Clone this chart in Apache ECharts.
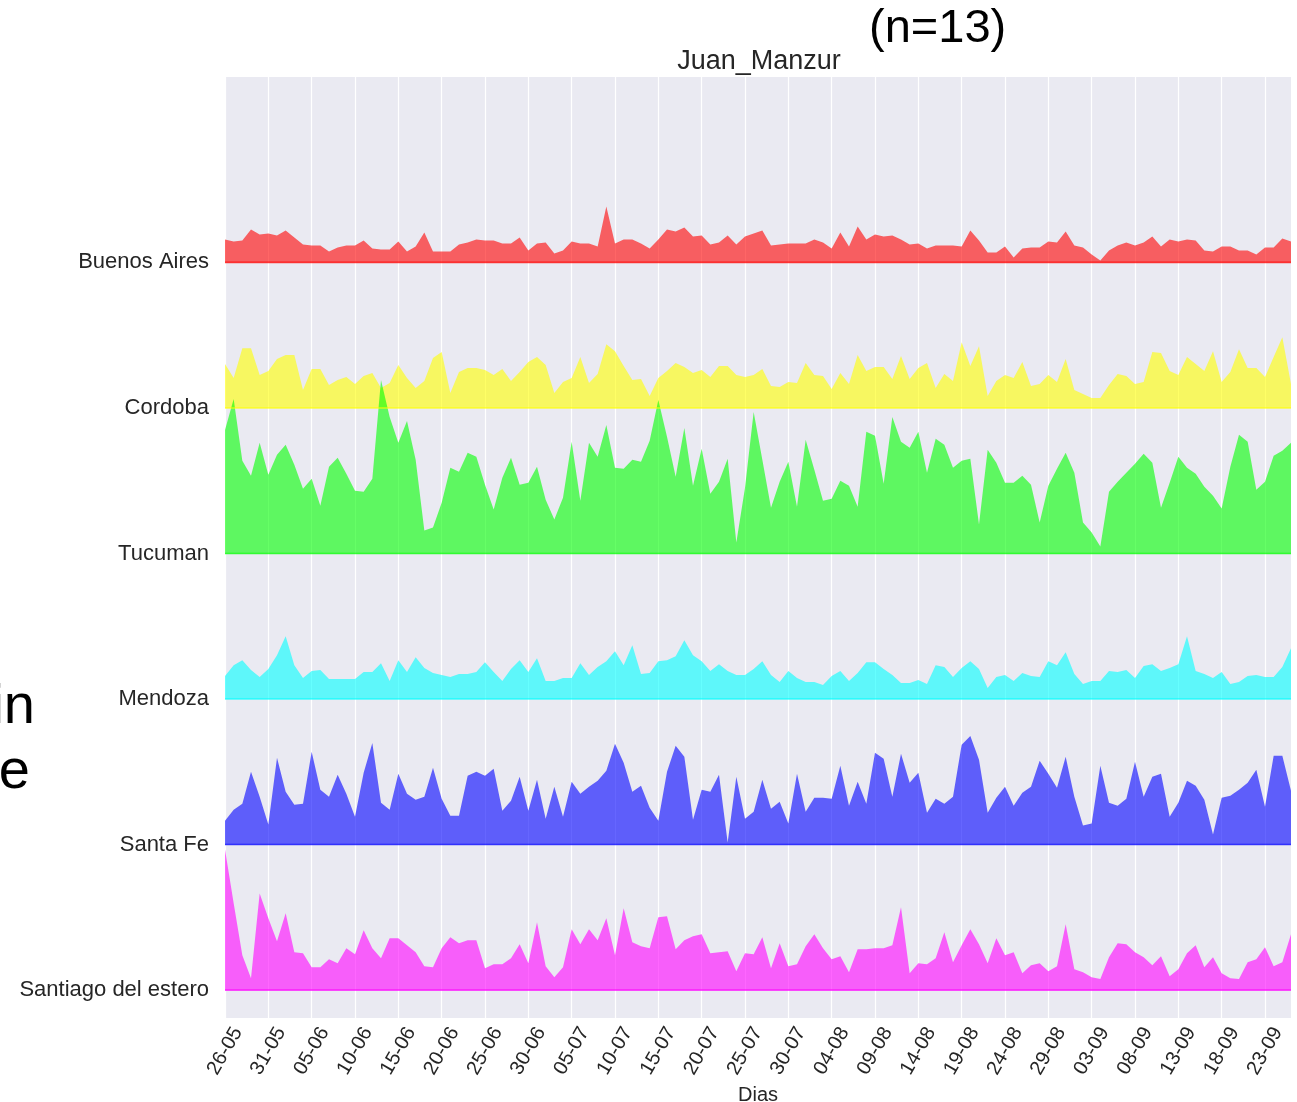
<!DOCTYPE html>
<html>
<head>
<meta charset="utf-8">
<title>Juan_Manzur</title>
<script src="https://cdn.jsdelivr.net/npm/echarts@6/dist/echarts.min.js"></script>
<style>
  html, body { margin: 0; padding: 0; background: #ffffff; }
  #chart { width: 1297px; height: 1102px; }
</style>
</head>
<body>
<div id="chart"></div>
<script>
// Daily series, 26-05 through 26-09 (124 days)
const firstDay = { year: 2021, month: 5, day: 26 };
const dayCount = 124;

const provinces = ['Buenos Aires', 'Cordoba', 'Tucuman', 'Mendoza', 'Santa Fe', 'Santiago del estero'];

const buenosAires = [
  23, 21, 22, 33, 28, 29, 27, 32, 25, 18,
  17, 17, 11, 15, 17, 17, 22, 14, 13, 13,
  21, 11, 16, 30, 11, 11, 11, 18, 20, 23,
  22, 22, 19, 19, 25, 12, 19, 20, 9, 12,
  21, 19, 19, 16, 56, 19, 23, 23, 19, 14,
  23, 33, 31, 35, 26, 27, 18, 20, 27, 18,
  26, 29, 32, 17, 18, 19, 19, 19, 23, 20,
  14, 30, 16, 36, 23, 28, 26, 27, 23, 18,
  19, 14, 17, 17, 17, 16, 32, 22, 10, 10,
  16, 5, 14, 15, 15, 21, 20, 31, 17, 15,
  8, 2, 12, 17, 20, 17, 20, 26, 16, 23,
  21, 23, 22, 12, 11, 16, 16, 12, 12, 8,
  15, 15, 24, 21
];

const cordoba = [
  44, 30, 60, 60, 33, 37, 49, 53, 53, 18,
  39, 39, 23, 28, 31, 24, 32, 35, 20, 25,
  43, 30, 20, 27, 50, 56, 15, 36, 40, 40,
  38, 33, 39, 27, 36, 46, 51, 43, 15, 26,
  30, 51, 25, 34, 64, 57, 42, 28, 29, 12,
  30, 37, 45, 41, 35, 38, 31, 42, 42, 33,
  31, 33, 39, 22, 21, 26, 25, 45, 33, 32,
  19, 35, 24, 53, 37, 41, 41, 29, 52, 29,
  40, 45, 20, 34, 27, 66, 42, 62, 12, 27,
  33, 30, 46, 22, 24, 33, 26, 49, 18, 14,
  10, 10, 23, 34, 32, 24, 26, 56, 55, 37,
  33, 51, 44, 37, 57, 26, 36, 59, 40, 40,
  31, 51, 71, 24
];

const tucuman = [
  124, 155, 93, 78, 111, 79, 99, 109, 89, 65,
  75, 48, 87, 96, 80, 63, 62, 75, 174, 137,
  111, 133, 94, 23, 26, 51, 86, 82, 101, 97,
  69, 44, 76, 96, 69, 71, 87, 54, 34, 56,
  112, 53, 111, 97, 129, 86, 85, 94, 92, 113,
  154, 117, 77, 126, 68, 105, 60, 72, 95, 11,
  66, 142, 94, 46, 72, 92, 47, 114, 84, 53,
  55, 73, 68, 47, 122, 118, 70, 137, 112, 106,
  122, 81, 115, 109, 86, 93, 95, 29, 104, 91,
  71, 71, 78, 69, 31, 68, 85, 101, 81, 31,
  21, 7, 62, 72, 81, 90, 100, 91, 46, 71,
  97, 86, 80, 67, 58, 45, 87, 119, 112, 64,
  72, 98, 103, 111
];

const mendoza = [
  23, 34, 39, 29, 22, 30, 44, 63, 34, 21,
  28, 29, 20, 20, 20, 20, 27, 27, 36, 18,
  39, 27, 42, 31, 26, 24, 22, 25, 25, 27,
  37, 27, 18, 30, 39, 27, 41, 18, 18, 21,
  21, 36, 24, 32, 38, 48, 34, 54, 25, 26,
  38, 39, 43, 59, 44, 38, 28, 35, 28, 24,
  24, 30, 38, 24, 17, 28, 21, 17, 17, 14,
  23, 28, 18, 26, 37, 37, 30, 24, 16, 16,
  19, 15, 34, 32, 22, 31, 38, 30, 11, 22,
  24, 18, 26, 23, 22, 38, 34, 47, 25, 15,
  18, 18, 28, 27, 29, 21, 33, 35, 28, 31,
  35, 63, 28, 25, 21, 27, 15, 17, 23, 24,
  22, 22, 32, 51
];

const santaFe = [
  24, 35, 41, 73, 48, 20, 87, 53, 40, 41,
  93, 55, 48, 70, 51, 28, 72, 102, 42, 35,
  71, 51, 45, 48, 77, 46, 29, 29, 69, 73,
  69, 76, 34, 44, 68, 34, 65, 26, 58, 28,
  63, 51, 58, 64, 74, 101, 82, 53, 59, 37,
  24, 73, 99, 88, 25, 55, 53, 70, 2, 68,
  26, 33, 65, 36, 43, 21, 71, 33, 47, 47,
  46, 79, 39, 63, 41, 92, 86, 48, 91, 62,
  72, 32, 46, 41, 48, 100, 109, 85, 32, 47,
  58, 39, 52, 58, 84, 71, 57, 88, 48, 19,
  21, 79, 42, 39, 46, 83, 48, 68, 71, 28,
  42, 64, 59, 45, 10, 47, 49, 55, 62, 75,
  38, 89, 89, 54
];

const santiagoDelEstero = [
  141, 87, 35, 12, 97, 72, 49, 77, 38, 37,
  23, 23, 31, 27, 42, 36, 60, 42, 32, 52,
  52, 45, 38, 24, 23, 42, 53, 47, 50, 50,
  22, 26, 26, 32, 46, 27, 68, 24, 13, 23,
  61, 46, 61, 50, 72, 35, 82, 48, 44, 42,
  73, 74, 41, 50, 54, 56, 37, 38, 39, 19,
  37, 36, 53, 22, 47, 24, 26, 44, 56, 42,
  31, 34, 18, 41, 41, 42, 42, 45, 83, 17,
  27, 26, 32, 58, 28, 45, 61, 46, 27, 52,
  35, 38, 17, 25, 27, 19, 24, 66, 21, 18,
  13, 11, 33, 47, 46, 38, 33, 25, 34, 14,
  21, 37, 45, 23, 33, 17, 12, 11, 28, 31,
  43, 24, 28, 56
];

const provinceValues = [buenosAires, cordoba, tucuman, mendoza, santaFe, santiagoDelEstero];
const provinceRgb = ['255,0,0', '255,255,0', '0,255,0', '0,255,255', '0,0,255', '255,0,255'];

// "DD-MM" label for every day of the period
function buildDayLabels() {
  const labels = [];
  for (let i = 0; i < dayCount; i++) {
    const d = new Date(Date.UTC(firstDay.year, firstDay.month - 1, firstDay.day + i));
    const dd = String(d.getUTCDate()).padStart(2, '0');
    const mm = String(d.getUTCMonth() + 1).padStart(2, '0');
    labels.push(dd + '-' + mm);
  }
  return labels;
}
const dayLabels = buildDayLabels();

// Each province sits on its own baseline; the bottom row is at 0.
const ROW_STEP = 146;
const rowBase = provinces.map((_, i) => (provinces.length - 1 - i) * ROW_STEP);
const labelAt = {};
provinces.forEach((p, i) => { labelAt[rowBase[i]] = p; });

const FONT = "'Liberation Sans', Arial, Helvetica, sans-serif";
const INK = '#262626';

const series = [];
provinces.forEach((p, i) => {
  const stackId = 'row' + i;
  // baseline of the ridge
  series.push({
    name: p + ' base',
    type: 'line',
    stack: stackId,
    data: provinceValues[i].map(() => rowBase[i]),
    symbol: 'none',
    silent: true,
    lineStyle: { color: 'rgba(' + provinceRgb[i] + ',0.7)', width: 1.6 }
  });
  // filled ridge of daily values
  series.push({
    name: p,
    type: 'line',
    stack: stackId,
    data: provinceValues[i],
    symbol: 'none',
    lineStyle: { width: 0, opacity: 0 },
    areaStyle: { color: 'rgba(' + provinceRgb[i] + ',0.6)', opacity: 1 }
  });
});

const chart = echarts.init(document.getElementById('chart'), null, { renderer: 'canvas' });
chart.setOption({
  animation: false,
  backgroundColor: '#ffffff',
  textStyle: { fontFamily: FONT },
  title: {
    text: 'Juan_Manzur',
    left: 754,
    top: 43,
    textAlign: 'center',
    textStyle: { fontFamily: FONT, fontSize: 27, fontWeight: 'normal', color: INK }
  },
  grid: {
    left: 225, right: 6, top: 77, bottom: 84,
    containLabel: false,
    outerBoundsMode: 'none',
    show: true, backgroundColor: '#eaeaf2', borderWidth: 0
  },
  xAxis: {
    type: 'category',
    data: dayLabels,
    boundaryGap: false,
    axisLine: { show: false },
    axisTick: { show: false },
    axisLabel: {
      interval: 4, rotate: 60, align: 'center', verticalAlign: 'middle',
      margin: 33, fontSize: 20, color: INK, fontFamily: FONT
    },
    splitLine: { show: true, interval: 4, lineStyle: { color: '#ffffff', width: 1.2 } },
    name: 'Dias',
    nameLocation: 'middle',
    nameGap: 60,
    nameTextStyle: { fontSize: 20, color: INK, fontFamily: FONT }
  },
  yAxis: {
    type: 'value',
    min: -28,
    max: 916,
    axisLine: { show: false },
    axisTick: { show: false },
    splitLine: { show: false },
    axisLabel: {
      customValues: rowBase,
      formatter: v => labelAt[v] || '',
      margin: 16, fontSize: 22, color: INK, fontFamily: FONT
    }
  },
  graphic: [
    {
      type: 'text', x: 869, y: 29, silent: true,
      style: { text: '(n=13)', fontSize: 47, fontFamily: FONT, fill: '#000000',
               textAlign: 'left', textVerticalAlign: 'middle', align: 'left', verticalAlign: 'middle' }
    },
    {
      type: 'text', x: 35, y: 708, silent: true,
      style: { text: 'in', fontSize: 56, fontFamily: FONT, fill: '#000000',
               textAlign: 'right', textVerticalAlign: 'middle', align: 'right', verticalAlign: 'middle' }
    },
    {
      type: 'text', x: 30, y: 773, silent: true,
      style: { text: 'e', fontSize: 56, fontFamily: FONT, fill: '#000000',
               textAlign: 'right', textVerticalAlign: 'middle', align: 'right', verticalAlign: 'middle' }
    }
  ],
  series: series
});
</script>
</body>
</html>
